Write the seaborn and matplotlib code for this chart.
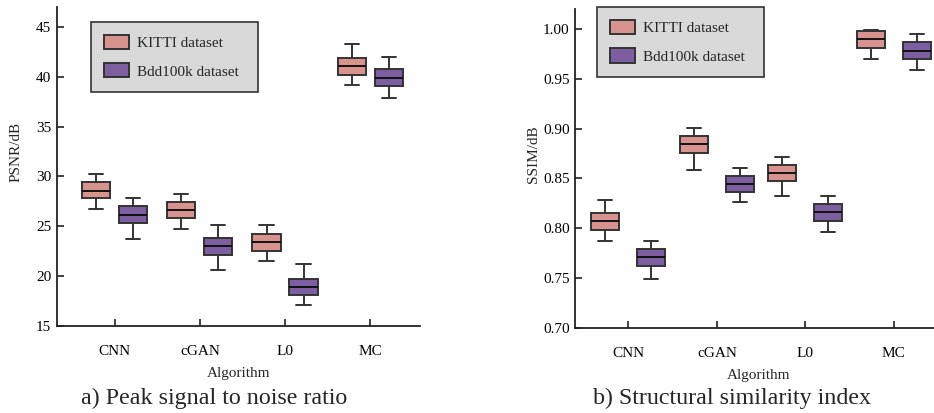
import numpy as np
import pandas as pd
import matplotlib
matplotlib.use("Agg")
import matplotlib.pyplot as plt
from matplotlib import font_manager
import seaborn as sns

# box summaries: [min, q1, median, q3, max]
categories = ['CNN', 'cGAN', 'L0', 'MC']
datasets = ['KITTI dataset', 'Bdd100k dataset']

psnr_kitti = [[26.7, 27.8, 28.5, 29.4, 30.2],
              [24.7, 25.8, 26.6, 27.4, 28.2],
              [21.5, 22.5, 23.4, 24.2, 25.1],
              [39.2, 40.2, 41.05, 41.9, 43.3]]
psnr_bdd = [[23.7, 25.3, 26.15, 27.0, 27.8],
            [20.6, 22.1, 23.0, 23.8, 25.15],
            [17.05, 18.1, 18.9, 19.7, 21.2],
            [37.9, 39.05, 39.9, 40.75, 42.0]]

ssim_kitti = [[0.787, 0.798, 0.807, 0.815, 0.828],
              [0.859, 0.876, 0.885, 0.893, 0.901],
              [0.832, 0.847, 0.8555, 0.864, 0.872],
              [0.970, 0.981, 0.9895, 0.998, 0.9993]]
ssim_bdd = [[0.749, 0.762, 0.771, 0.779, 0.787],
            [0.826, 0.836, 0.8445, 0.8525, 0.861],
            [0.796, 0.807, 0.816, 0.824, 0.832],
            [0.959, 0.970, 0.978, 0.9866, 0.995]]

palette = {'KITTI dataset': '#d9938f', 'Bdd100k dataset': '#7d5fa1'}


def to_frame(kitti, bdd):
    rows = []
    for name, series in zip(datasets, [kitti, bdd]):
        for cat, vals in zip(categories, series):
            for v in vals:
                rows.append({'Algorithm': cat, 'value': v, 'dataset': name})
    return pd.DataFrame(rows)


# pick a Times-like face if one is installed
names = sorted({f.name for f in font_manager.fontManager.ttflist})
serif = [n for n in names if 'Liberation Serif' in n or 'Times' in n]
font_name = serif[0] if serif else 'DejaVu Serif'

sns.set_style("ticks")
plt.rcParams['font.family'] = [font_name, 'DejaVu Serif']
plt.rcParams['font.size'] = 11

fig = plt.figure(figsize=(9.34, 4.13), dpi=100)
ax1 = fig.add_axes([0.061, 0.211, 0.389, 0.772])
ax2 = fig.add_axes([0.616, 0.206, 0.392, 0.772])

panels = [
    (ax1, to_frame(psnr_kitti, psnr_bdd), 'PSNR/dB', (15, 47), np.arange(15, 46, 5),
     (-0.68, 3.59), 0.87, 0.24, (0.094, 0.953), 0.46, '%d'),
    (ax2, to_frame(ssim_kitti, ssim_bdd), 'SSIM/dB', (0.70, 1.02), np.arange(0.70, 1.001, 0.05),
     (-0.60, 3.54), 1.04, 0.39, (0.060, 1.006), 0.456, '%.2f'),
]

for ax, df, ylab, ylim, yticks, xlim, w, gap, leg_xy, leg_w, fmt in panels:
    sns.boxplot(data=df, x='Algorithm', y='value', hue='dataset', order=categories,
                hue_order=datasets, palette=palette, saturation=1, width=w, gap=gap,
                whis=(0, 100), linewidth=1.4, linecolor='#333333', ax=ax,
                medianprops={'color': '#111111', 'linewidth': 1.4})
    ax.set_ylim(*ylim)
    ax.set_xlim(*xlim)
    ax.set_yticks(yticks)
    ax.yaxis.set_major_formatter(matplotlib.ticker.FormatStrFormatter(fmt))
    ax.set_ylabel(ylab, fontsize=11)
    ax.set_xlabel('Algorithm', fontsize=11, labelpad=6)
    ax.yaxis.set_label_coords(-0.096, 0.545)
    ax.tick_params(axis='both', direction='in', length=5, width=1.2, colors='#222222',
                   labelcolor='black', labelsize=11)
    ax.tick_params(axis='x', pad=14)
    ax.tick_params(axis='y', pad=4)
    for s in ['top', 'right']:
        ax.spines[s].set_visible(False)
    for s in ['left', 'bottom']:
        ax.spines[s].set_linewidth(1.3)
        ax.spines[s].set_color('#222222')
    leg = ax.legend(loc='upper left', bbox_to_anchor=(leg_xy[0], leg_xy[1] - 0.3, leg_w, 0.3),
                    mode='expand', borderaxespad=0, fontsize=11,
                    facecolor='#d9d9d9', edgecolor='#333333', framealpha=1, fancybox=False,
                    handlelength=1.6, handleheight=1.05, handletextpad=0.55,
                    labelspacing=0.85, borderpad=0.85)
    leg.get_frame().set_linewidth(1.2)

fig.text(214 / 934, 1 - 398 / 413, 'a) Peak signal to noise ratio', ha='center', va='center', fontsize=17.3)
fig.text(732 / 934, 1 - 398 / 413, 'b) Structural similarity index', ha='center', va='center', fontsize=17.3)

fig.savefig('out.png', dpi=100)
